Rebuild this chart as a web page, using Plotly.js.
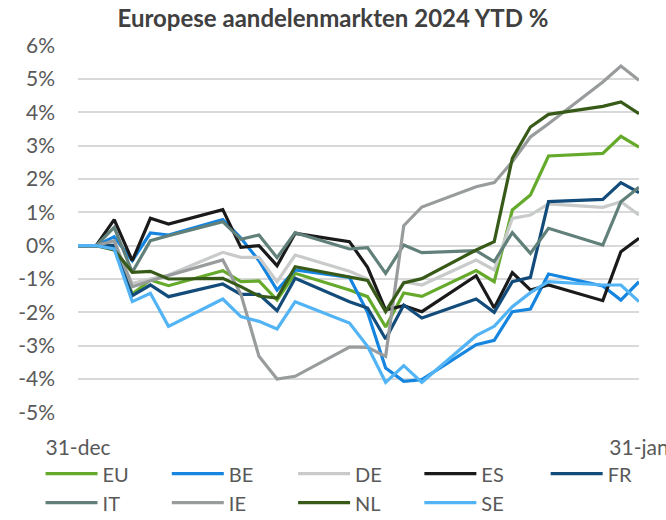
<!DOCTYPE html>
<html>
<head>
<meta charset="utf-8">
<script src="https://cdn.plot.ly/plotly-3.0.1.min.js"></script>
<style>html,body{margin:0;padding:0;background:#fff;}#chart{width:666px;height:520px;}</style>
</head>
<body>
<div id="chart"></div>
<script>
const dates = ['2023-12-31','2024-01-01','2024-01-02','2024-01-03','2024-01-04','2024-01-05','2024-01-08','2024-01-09','2024-01-10','2024-01-11','2024-01-12','2024-01-15','2024-01-16','2024-01-17','2024-01-18','2024-01-19','2024-01-22','2024-01-23','2024-01-24','2024-01-25','2024-01-26','2024-01-29','2024-01-30','2024-01-31'];

const EU = [0, 0, -0.05, -1.45, -1.03, -1.2, -0.75, -1.08, -1.06, -1.63, -0.83, -1.33, -1.53, -2.44, -1.42, -1.52, -0.75, -1.08, 1.07, 1.52, 2.69, 2.77, 3.28, 2.96];
const BE = [0, 0, 0.27, -0.45, 0.38, 0.32, 0.78, 0.23, -0.45, -1.33, -0.73, -0.95, -2.0, -3.67, -4.07, -4.02, -2.97, -2.84, -1.98, -1.9, -0.85, -1.21, -1.63, -1.08];
const DE = [0, 0, 0.05, -1.13, -1.0, -0.88, -0.2, -0.35, -0.35, -1.08, -0.28, -0.77, -1.0, -1.95, -1.08, -1.18, -0.43, -0.73, 0.82, 0.92, 1.25, 1.15, 1.32, 0.92];
const ES = [0, 0, 0.78, -0.45, 0.82, 0.65, 1.08, -0.05, 0.0, -0.6, 0.37, 0.12, -0.65, -1.93, -1.8, -1.98, -0.9, -1.87, -0.81, -1.33, -1.18, -1.65, -0.18, 0.22];
const FR = [0, 0, 0.0, -1.5, -1.18, -1.53, -1.15, -1.46, -1.46, -1.95, -0.98, -1.68, -1.87, -2.8, -1.78, -2.17, -1.6, -2.0, -1.08, -0.95, 1.32, 1.39, 1.89, 1.59];
const IT = [0, 0, 0.55, -0.8, 0.15, 0.3, 0.72, 0.19, 0.32, -0.36, 0.39, -0.1, -0.06, -0.83, 0.02, -0.21, -0.15, -0.48, 0.39, -0.23, 0.52, 0.02, 1.32, 1.75];
const IE = [0, 0, 0.15, -1.23, -1.05, -0.9, -0.43, -1.45, -3.32, -4.0, -3.92, -3.04, -3.05, -3.32, 0.6, 1.16, 1.77, 1.89, 2.52, 3.26, 3.66, 4.91, 5.39, 4.96];
const NL = [0, 0, -0.13, -0.8, -0.77, -1.0, -0.98, -1.23, -1.51, -1.57, -0.63, -0.92, -1.04, -1.98, -1.12, -0.99, -0.13, 0.12, 2.62, 3.56, 3.94, 4.18, 4.31, 3.96];
const SE = [0, 0, -0.1, -1.68, -1.43, -2.42, -1.6, -2.13, -2.27, -2.5, -1.68, -2.32, -3.02, -4.1, -3.6, -4.1, -2.7, -2.42, -1.83, -1.41, -1.08, -1.18, -1.18, -1.68];

const seriesNames = ['EU','BE','DE','ES','FR','IT','IE','NL','SE'];
const seriesValues = [EU, BE, DE, ES, FR, IT, IE, NL, SE];
const seriesColors = ['#66aa2c','#1585e0','#c9cbcb','#1a1a1a','#134c7a','#62807a','#999c9d','#375a19','#52b4f5'];

const xTickVals = ['2023-12-31','2024-01-31'];
const xTickText = ['31-dec','31-jan'];
const yTickVals = [-5,-4,-3,-2,-1,0,1,2,3,4,5,6];
const yTickText = ['-5%','-4%','-3%','-2%','-1%','0%','1%','2%','3%','4%','5%','6%'];

// legend columns (as in the reference: 5 columns, 2 rows)
const legendIds = ['legend','legend2','legend3','legend4','legend5'];
const legendCol = [0,1,2,3,4,0,1,2,3];

const traces = seriesNames.map((n, i) => ({
  type: 'scatter', mode: 'lines', name: n,
  x: dates, y: seriesValues[i],
  legend: legendIds[legendCol[i]],
  line: {color: seriesColors[i], width: 3.2}
}));

const FONT = 'Lato, "Open Sans", sans-serif';
const TXT = '#595959';
const layout = {
  width: 666, height: 520,
  margin: {l: 78, r: 27, t: 45, b: 107, autoexpand: false},
  paper_bgcolor: '#ffffff', plot_bgcolor: '#ffffff',
  font: {family: FONT, color: TXT, size: 21},
  title: {text: '<b>Europese aandelenmarkten 2024 YTD %</b>', x: 0.5, xanchor: 'center', y: 0.965, yanchor: 'middle',
          font: {family: FONT, size: 24, color: '#404040'}},
  xaxis: {type: 'date', range: ['2023-12-30 23:59:30','2024-01-31 00:00:30'], tickvals: xTickVals, ticktext: xTickText,
          showgrid: false, zeroline: false, showline: false, ticks: '', ticklabelstandoff: 20,
          ticklabeloverflow: 'allow', tickfont: {family: FONT, size: 21, color: TXT}},
  yaxis: {range: [-5.02, 6.02], tickvals: yTickVals, ticktext: yTickText, showgrid: true, gridcolor: '#d9d9d9', gridwidth: 2,
          zeroline: false, showline: false, ticks: '', ticklabelstandoff: 22,
          tickfont: {family: FONT, size: 21, color: TXT}},
  showlegend: true
};
const legendX0 = -0.0668, legendDX = 0.2251;
legendIds.forEach((id, k) => {
  layout[id] = {orientation: 'v', x: legendX0 + k * legendDX, xanchor: 'left', y: -0.112, yanchor: 'top',
                itemwidth: 52, tracegroupgap: 0, bgcolor: 'rgba(0,0,0,0)',
                font: {family: FONT, size: 20, color: TXT}};
});

Plotly.newPlot('chart', traces, layout, {displayModeBar: false, staticPlot: true});
</script>
</body>
</html>
